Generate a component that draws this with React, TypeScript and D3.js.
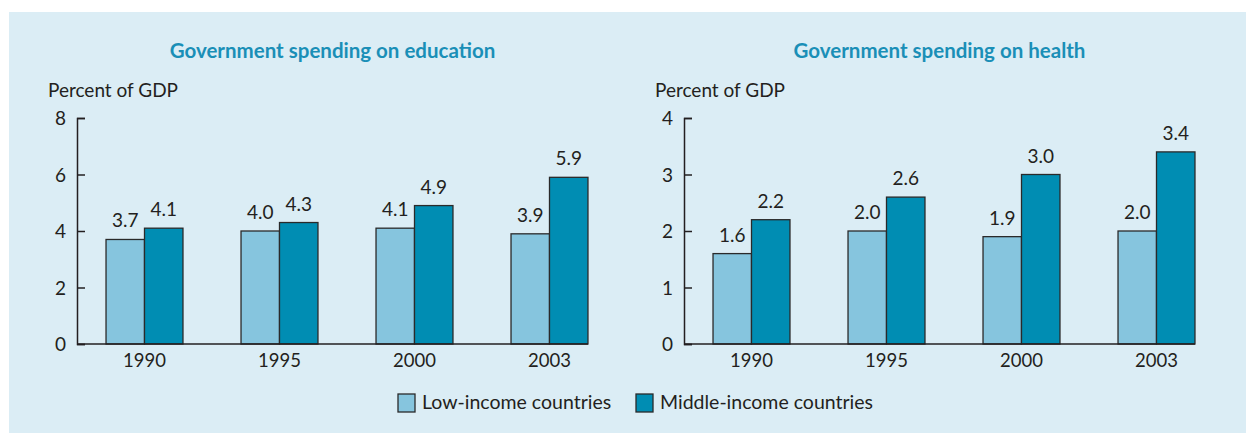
import { FC, useEffect, useRef } from "react";
import * as d3 from "d3";

const years = ["1990", "1995", "2000", "2003"];
const educationLow = [3.7, 4.0, 4.1, 3.9];
const educationMiddle = [4.1, 4.3, 4.9, 5.9];
const healthLow = [1.6, 2.0, 1.9, 2.0];
const healthMiddle = [2.2, 2.6, 3.0, 3.4];
const educationTicks = [0, 2, 4, 6, 8];
const healthTicks = [0, 1, 2, 3, 4];
const seriesNames = ["Low-income countries", "Middle-income countries"];

const LOW = "#86c5de";
const MID = "#008db3";
const INK = "#231f20";
const TITLE = "#1a8fb7";
const BG = "#dbedf5";
const FONT = "Lato, 'Open Sans', sans-serif";

type PanelProps = {
    title: string;
    low: number[];
    middle: number[];
    ticks: number[];
    left: number;
};

const Panel: FC<PanelProps> = ({ title, low, middle, ticks, left }) => {
    const gRef = useRef<SVGGElement>(null);

    useEffect(() => {
        if (!gRef.current) return;
        const g = d3.select(gRef.current);

        const plotTop = 118;
        const plotBottom = 344;
        const plotWidth = 540;

        const x = d3
            .scaleBand<string>()
            .domain(years)
            .range([left, left + plotWidth])
            .paddingInner(0.43)
            .paddingOuter(0.215);
        const sub = d3
            .scaleBand<number>()
            .domain([0, 1])
            .range([0, x.bandwidth()]);
        const y = d3
            .scaleLinear()
            .domain([0, d3.max(ticks) ?? 1])
            .range([plotBottom, plotTop]);

        const axisEnd = (x(years[years.length - 1]) ?? 0) + x.bandwidth();
        const centre = (left + axisEnd) / 2;

        g.append("text")
            .attr("x", centre)
            .attr("y", 58)
            .attr("text-anchor", "middle")
            .attr("fill", TITLE)
            .attr("font-weight", 700)
            .attr("font-size", 20.5)
            .text(title);

        g.append("text")
            .attr("x", left - 29)
            .attr("y", 97)
            .attr("fill", INK)
            .attr("font-size", 19)
            .text("Percent of GDP");

        // y axis: ticks point into the plot
        const yAxis = g
            .append("g")
            .attr("transform", `translate(${left},0)`)
            .call(
                d3
                    .axisRight(y)
                    .tickValues(ticks)
                    .tickFormat(d3.format("d"))
                    .tickSizeOuter(0)
                    .tickSize(8)
            );
        yAxis.select(".domain").attr("stroke", INK).attr("stroke-width", 1.5);
        yAxis.selectAll(".tick line").attr("stroke", INK).attr("stroke-width", 1.5);
        yAxis
            .selectAll(".tick text")
            .attr("x", -11)
            .attr("text-anchor", "end")
            .attr("dy", "0.36em")
            .attr("fill", INK)
            .attr("font-family", FONT)
            .attr("font-size", 19);

        const groups = g
            .selectAll(".year")
            .data(years)
            .join("g")
            .attr("transform", (d) => `translate(${x(d)},0)`);

        const series = [low, middle];
        [0, 1].forEach((s) => {
            groups
                .append("rect")
                .attr("x", sub(s) ?? 0)
                .attr("y", (_, i) => y(series[s][i]))
                .attr("width", sub.bandwidth())
                .attr("height", (_, i) => plotBottom - y(series[s][i]))
                .attr("fill", s === 0 ? LOW : MID)
                .attr("stroke", "#2a2a2a")
                .attr("stroke-width", 1.3);
            groups
                .append("text")
                .attr("x", (sub(s) ?? 0) + sub.bandwidth() / 2)
                .attr("y", (_, i) => y(series[s][i]) - 12)
                .attr("text-anchor", "middle")
                .attr("fill", INK)
                .attr("font-size", 19)
                .text((_, i) => series[s][i].toFixed(1));
        });

        groups
            .append("text")
            .attr("x", x.bandwidth() / 2)
            .attr("y", 367)
            .attr("text-anchor", "middle")
            .attr("fill", INK)
            .attr("font-size", 18.5)
            .text((d) => d);

        g.append("line")
            .attr("x1", left)
            .attr("x2", axisEnd)
            .attr("y1", plotBottom)
            .attr("y2", plotBottom)
            .attr("stroke", INK)
            .attr("stroke-width", 1.5);

        return () => {
            g.selectAll("*").remove();
        };
    }, [title, low, middle, ticks, left]);

    return <g ref={gRef} />;
};

const legendX = [398, 636];

export default function App() {
    return (
        <svg
            width={1246}
            height={433}
            style={{ position: "absolute", left: 0, top: 0, fontFamily: FONT }}
        >
            <rect x={9} y={12} width={1237} height={421} fill={BG} />
            <Panel
                title="Government spending on education"
                low={educationLow}
                middle={educationMiddle}
                ticks={educationTicks}
                left={77}
            />
            <Panel
                title="Government spending on health"
                low={healthLow}
                middle={healthMiddle}
                ticks={healthTicks}
                left={684}
            />
            {seriesNames.map((name, i) => (
                <g key={name} transform={`translate(${legendX[i]},394)`}>
                    <rect
                        width={17}
                        height={18}
                        fill={i === 0 ? LOW : MID}
                        stroke="#2a2a2a"
                        strokeWidth={1.3}
                    />
                    <text x={24} y={15} fill={INK} fontSize={19.5}>
                        {name}
                    </text>
                </g>
            ))}
        </svg>
    );
}
